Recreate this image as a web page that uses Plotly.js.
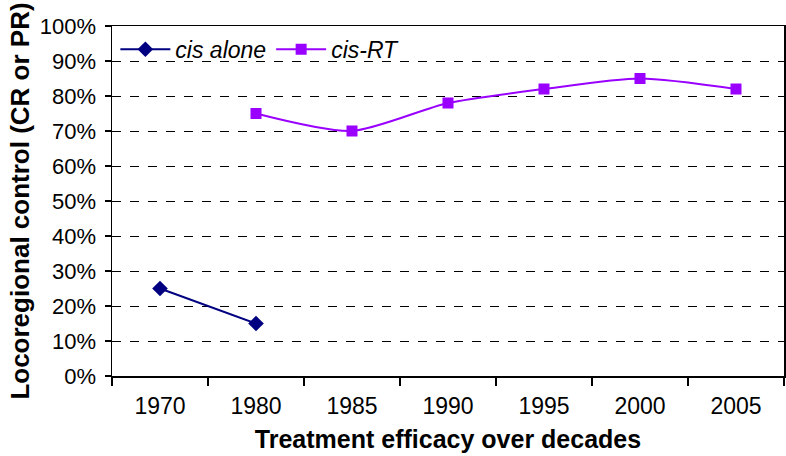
<!DOCTYPE html>
<html><head><meta charset="utf-8">
<script src="https://cdn.plot.ly/plotly-3.0.1.min.js"></script>
<style>html,body{margin:0;padding:0;background:#fff}#c{width:786px;height:456px}</style>
</head><body><div id="c"></div>
<script>
var categories = ["1970","1980","1985","1990","1995","2000","2005"];
var cisAloneX = ["1970","1980"];
var cisAloneY = [25, 15];
var cisRTX = ["1980","1985","1990","1995","2000","2005"];
var cisRTY = [75, 70, 78, 82, 85, 82];
var yTicks = [0,10,20,30,40,50,60,70,80,90,100];

var font = "Liberation Sans, Arial, sans-serif";
var traces = [
  {x: cisAloneX, y: cisAloneY, name: "cis alone", type: "scatter", mode: "lines+markers",
   line: {color: "#000080", width: 2}, marker: {symbol: "diamond", size: 12, color: "#000080"}},
  {x: cisRTX, y: cisRTY, name: "cis-RT", type: "scatter", mode: "lines+markers",
   line: {color: "#9900FF", width: 2, shape: "spline", smoothing: 0.7}, marker: {symbol: "square", size: 11, color: "#9900FF"}}
];
var layout = {
  width: 786, height: 456,
  margin: {l: 112, r: 2, t: 26, b: 80},
  paper_bgcolor: "#fff", plot_bgcolor: "#fff",
  font: {family: font, color: "#000", size: 22},
  showlegend: true,
  legend: {x: 0.005, y: 0.995, xanchor: "left", yanchor: "top", orientation: "h",
    font: {family: font, size: 23, style: "italic"}, bgcolor: "rgba(0,0,0,0)", itemwidth: 50},
  xaxis: {type: "category", categoryarray: categories, categoryorder: "array",
    range: [-0.5, 6.5], tickson: "boundaries", ticks: "outside", ticklen: 8, tickcolor: "#000", tickwidth: 1.5,
    showline: true, linecolor: "#000", linewidth: 1.5, mirror: true, showgrid: false, zeroline: false,
    tickfont: {size: 23}, ticklabelstandoff: 9, fixedrange: true,
    title: {text: "<b>Treatment efficacy over decades</b>", font: {size: 25}, standoff: 12}},
  yaxis: {range: [0, 100], tickvals: yTicks, ticktext: yTicks.map(function(v){return v+"%";}),
    ticks: "outside", ticklen: 6, tickcolor: "#000", tickwidth: 1.5,
    showline: true, linecolor: "#000", linewidth: 1.5, mirror: true,
    showgrid: true, gridcolor: "#000", gridwidth: 1, griddash: "dash", zeroline: false,
    tickfont: {size: 22}, ticklabelstandoff: 4,
    title: {text: "<b>Locoregional control (CR or PR)</b>", font: {size: 26}, standoff: 2}}
};
Plotly.newPlot("c", traces, layout, {displayModeBar: false, staticPlot: true});
</script></body></html>
